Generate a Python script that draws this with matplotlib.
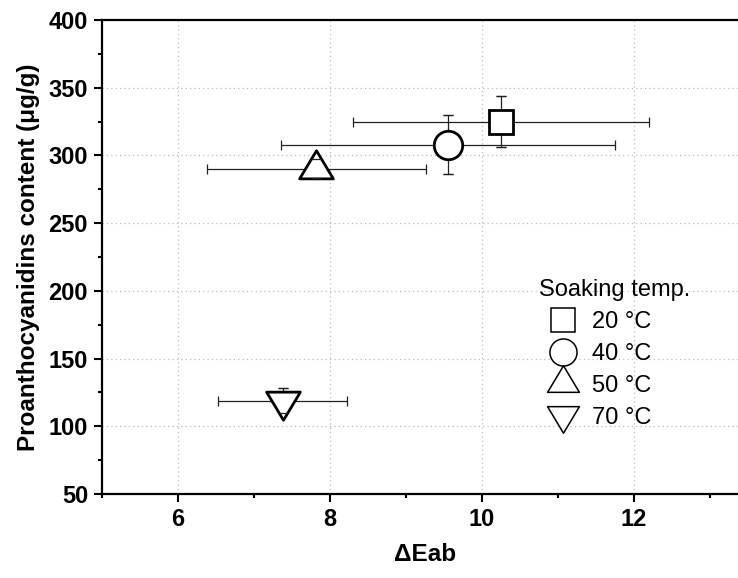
import matplotlib
matplotlib.use("Agg")
import matplotlib.pyplot as plt
from matplotlib.path import Path
from matplotlib.lines import Line2D
from matplotlib.ticker import MultipleLocator

# data
labels = ["20 °C", "40 °C", "50 °C", "70 °C"]
delta_e = [10.25, 9.55, 7.82, 7.38]
delta_e_err = [1.95, 2.2, 1.44, 0.85]
content = [325, 308, 290, 119]
content_err = [19, 22, 7, 9.5]

plt.rcParams["font.family"] = ["Liberation Sans", "DejaVu Sans"]

# triangles centred on their centroid, like Origin draws them
tri_up = Path([(0, 0.667), (-0.6, -0.333), (0.6, -0.333), (0, 0.667)],
              [Path.MOVETO, Path.LINETO, Path.LINETO, Path.CLOSEPOLY])
tri_down = Path([(0, -0.667), (-0.6, 0.333), (0.6, 0.333), (0, -0.667)],
                [Path.MOVETO, Path.LINETO, Path.LINETO, Path.CLOSEPOLY])
markers = ["s", "o", tri_up, tri_down]
sizes = [17.5, 20.5, 27, 27]
leg_sizes = [17, 19.5, 25.5, 25.5]

fig = plt.figure(figsize=(7.38, 5.78), dpi=100)
ax = fig.add_axes([102 / 738, 1 - 494 / 578, 646 / 738, 474 / 578])

for i in range(len(labels)):
    ax.errorbar(delta_e[i], content[i], xerr=delta_e_err[i], yerr=content_err[i],
                fmt="none", ecolor="#222222", elinewidth=0.9, capsize=3.5,
                capthick=0.9, zorder=2)
    ax.plot(delta_e[i], content[i], linestyle="none", marker=markers[i],
            markersize=sizes[i], markerfacecolor="white",
            markeredgecolor="black", markeredgewidth=2.0, zorder=3)
    # Origin paints the y caps over the symbol
    eb = ax.errorbar(delta_e[i], content[i], yerr=content_err[i], fmt="none",
                     ecolor="#222222", elinewidth=0.9, capsize=3.5,
                     capthick=0.9, zorder=4)
    for col in eb.lines[2]:
        col.set_visible(False)

ax.set_xlim(5, 13.5)
ax.set_ylim(50, 400)
ax.xaxis.set_major_locator(MultipleLocator(2))
ax.xaxis.set_minor_locator(MultipleLocator(1))
ax.yaxis.set_major_locator(MultipleLocator(50))
ax.yaxis.set_minor_locator(MultipleLocator(25))
ax.grid(True, which="major", linestyle=(0, (1, 2.5)), color="#bbbbbb",
        linewidth=0.9, zorder=0)
ax.set_axisbelow(True)

for s in ["left", "bottom", "top"]:
    ax.spines[s].set_linewidth(1.6)
ax.spines["right"].set_visible(False)
ax.tick_params(which="major", direction="out", length=6, width=1.5,
               labelsize=17, pad=4, top=False, right=False)
ax.tick_params(which="minor", direction="out", length=3, width=1.5,
               top=False, right=False)
for lab in ax.get_xticklabels() + ax.get_yticklabels():
    lab.set_fontweight("bold")

ax.set_xlabel("ΔEab", fontsize=17.5, fontweight="bold", labelpad=9)
ax.set_ylabel("Proanthocyanidins content (μg/g)", fontsize=17.5,
              fontweight="bold", labelpad=6)

handles = [Line2D([], [], linestyle="none", marker=markers[i],
                  markersize=leg_sizes[i], markerfacecolor="white",
                  markeredgecolor="black", markeredgewidth=1.1)
           for i in range(len(labels))]
leg = ax.legend(handles, labels, title="Soaking temp.", alignment="left",
                loc="upper left", bbox_to_anchor=(539 / 738, 1 - 279 / 578),
                bbox_transform=fig.transFigure, frameon=False, fontsize=17,
                title_fontsize=17, handlelength=2.0, handletextpad=0.25,
                labelspacing=0.42, borderpad=0, borderaxespad=0)

fig.savefig("out.png", dpi=100)
